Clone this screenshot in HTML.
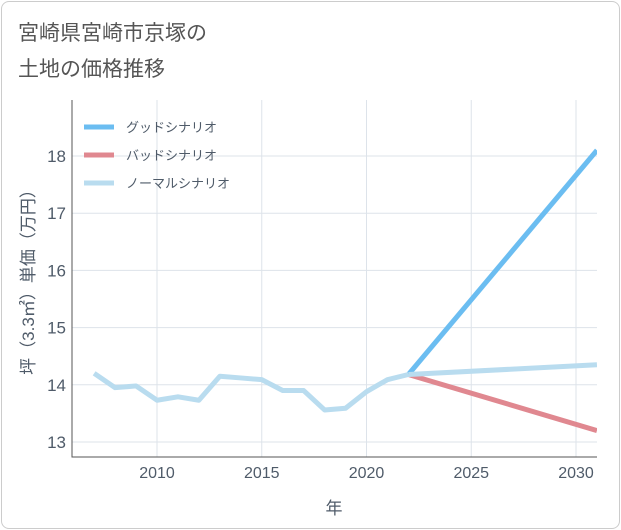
<!DOCTYPE html>
<html><head><meta charset="utf-8"><style>
body{margin:0;background:#fff;font-family:"Liberation Sans","Noto Sans CJK JP",sans-serif;}
#card{position:absolute;left:1px;top:1px;width:617px;height:526px;border:1px solid #ccc;border-radius:8px;background:#fff;}
</style></head><body>
<div id="card"></div>
<svg id="chart" width="621" height="530" style="position:absolute;left:0;top:0">
<text x="18" y="40" font-size="21" fill="#555">宮崎県宮崎市京塚の</text>
<text x="18" y="76" font-size="21" fill="#555">土地の価格推移</text>
<g id="plot"></g>
</svg>
<script>
const years=[2007,2008,2009,2010,2011,2012,2013,2014,2015,2016,2017,2018,2019,2020,2021,2022];
const normalVals=[14.2,13.95,13.98,13.73,13.79,13.73,14.15,14.12,14.09,13.9,13.9,13.56,13.59,13.88,14.09,14.18];
const projYears=[2022,2031];
const goodVals=[14.18,18.1];
const badVals=[14.18,13.2];
const normProj=[14.18,14.35];
const xTicks=[2010,2015,2020,2025,2030];
const yTicks=[13,14,15,16,17,18];
const L=72,R=597,T=100,B=457;
const TXT='#4f5b69';
const x=v=>157+(v-2010)*20.95;
const y=v=>442-(v-13)*57.2;
const NS="http://www.w3.org/2000/svg";
const g=document.getElementById('plot');
function mk(t,a){const e=document.createElementNS(NS,t);for(const k in a)e.setAttribute(k,a[k]);g.appendChild(e);return e;}
xTicks.forEach(t=>{const l=mk('line',{x1:x(t),x2:x(t),y1:T,y2:B,stroke:'#dde3ea'});


const tx=mk('text',{x:x(t),y:478,'text-anchor':'middle','font-size':16,fill:TXT});tx.textContent=t;

});
yTicks.forEach(t=>{const l=mk('line',{x1:L,x2:R,y1:y(t),y2:y(t),stroke:'#dde3ea'});


const tx=mk('text',{x:66,y:y(t)+6,'text-anchor':'end','font-size':17,fill:TXT});tx.textContent=t;

});
const ax=mk('path',{d:`M${L},${T}V${B}H${R}`,fill:'none',stroke:'#555'});


function line(xs,vs,c,n){const p=mk('polyline',{points:xs.map((a,i)=>x(a)+','+y(vs[i])).join(' '),fill:'none',stroke:c,'stroke-width':5,'stroke-linejoin':'round'});

}
const clip=mk('clipPath',{id:'c'});const cr=document.createElementNS(NS,'rect');cr.setAttribute('x',L);cr.setAttribute('y',T);cr.setAttribute('width',R-L);cr.setAttribute('height',B-T);clip.appendChild(cr);
line(projYears,goodVals,'#6bbdf1','good-scenario-line');
line(projYears,badVals,'#e08890','bad-scenario-line');
line(projYears,normProj,'#b9dcef','normal-scenario-projection');
line(years,normalVals,'#b9dcef','normal-scenario-line');
g.querySelectorAll('polyline').forEach(p=>p.setAttribute('clip-path','url(#c)'));
const leg=[['グッドシナリオ','#6bbdf1'],['バッドシナリオ','#e08890'],['ノーマルシナリオ','#b9dcef']];
leg.forEach((d,i)=>{const yy=127+i*28;
const l=mk('line',{x1:84,x2:114,y1:yy,y2:yy,stroke:d[1],'stroke-width':5});


const t=mk('text',{x:126,y:yy+5,'font-size':13,fill:TXT});t.textContent=d[0];

});
const xt=mk('text',{x:334,y:514,'text-anchor':'middle','font-size':17,fill:TXT});xt.textContent='年';


const yt=mk('text',{x:0,y:0,'text-anchor':'middle','font-size':17,fill:TXT,transform:'translate(34,278) rotate(-90)'});yt.textContent='坪（3.3㎡）単価（万円）';


</script>
</body></html>
